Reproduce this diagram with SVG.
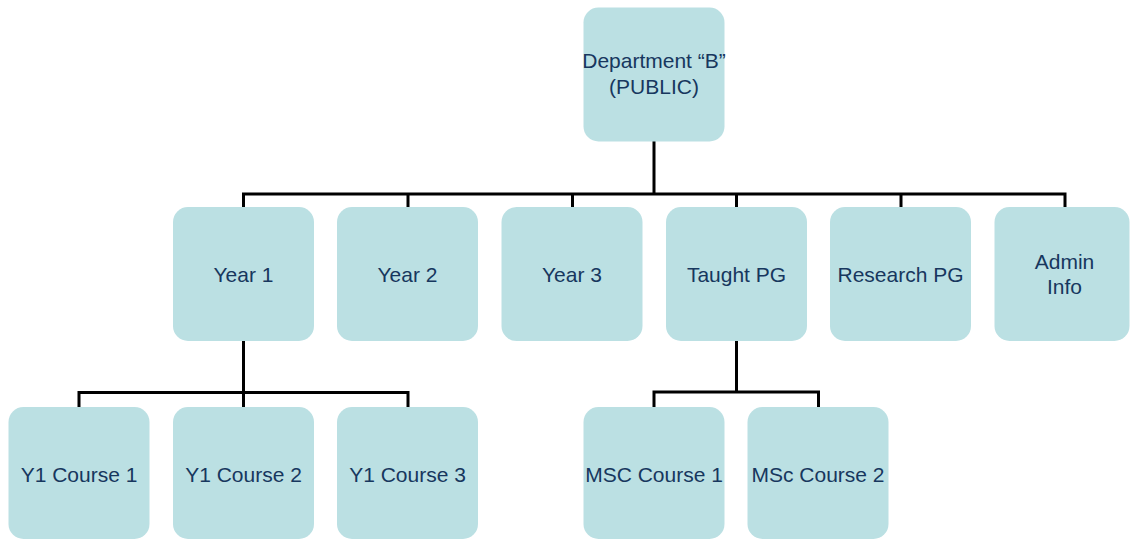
<svg xmlns="http://www.w3.org/2000/svg" width="1130" height="539" viewBox="0 0 1130 539">
<style>
.n{fill:#BBE0E3;}
.t{font-family:"Liberation Sans",Arial,sans-serif;font-size:21px;fill:#17375E;text-anchor:middle;}
.c{fill:none;stroke:#000;stroke-width:3;stroke-linejoin:miter;stroke-linecap:square;}
</style>
<rect width="1130" height="539" fill="#fff"/>
<g id="connectors">
<path class="c" d="M654 142V194M243.5 194H1065M243.5 194V207M408 194V207M572.5 194V207M736.5 194V207M901 194V207M1065 194V207"/>
<path class="c" d="M243.5 341V392.5M79 392.5H408M79 392.5V407M243.5 392.5V407M408 392.5V407"/>
<path class="c" d="M736.5 341V392M654 392H818.5M654 392V407M818.5 392V407"/>
</g>
<g id="dept"><rect class="n" x="583.5" y="7.5" width="141" height="134" rx="15"/><text class="t" x="654" y="68">Department “B”</text><text class="t" x="654" y="94">(PUBLIC)</text></g>
<g id="year1"><rect class="n" x="173" y="207" width="141" height="134" rx="15"/><text class="t" x="243.5" y="281.5">Year 1</text></g>
<g id="year2"><rect class="n" x="337" y="207" width="141" height="134" rx="15"/><text class="t" x="407.5" y="281.5">Year 2</text></g>
<g id="year3"><rect class="n" x="501.5" y="207" width="141" height="134" rx="15"/><text class="t" x="572" y="281.5">Year 3</text></g>
<g id="taughtpg"><rect class="n" x="666" y="207" width="141" height="134" rx="15"/><text class="t" x="736.5" y="281.5">Taught PG</text></g>
<g id="researchpg"><rect class="n" x="830" y="207" width="141" height="134" rx="15"/><text class="t" x="900.5" y="281.5">Research PG</text></g>
<g id="admin"><rect class="n" x="994.5" y="207" width="135" height="134" rx="15"/><text class="t" x="1064.5" y="268.5">Admin</text><text class="t" x="1064.5" y="294">Info</text></g>
<g id="y1c1"><rect class="n" x="8.5" y="407" width="141" height="132" rx="15"/><text class="t" x="79" y="481.5">Y1 Course 1</text></g>
<g id="y1c2"><rect class="n" x="173" y="407" width="141" height="132" rx="15"/><text class="t" x="243.5" y="481.5">Y1 Course 2</text></g>
<g id="y1c3"><rect class="n" x="337" y="407" width="141" height="132" rx="15"/><text class="t" x="407.5" y="481.5">Y1 Course 3</text></g>
<g id="msc1"><rect class="n" x="583.5" y="407" width="141" height="132" rx="15"/><text class="t" x="654" y="481.5">MSC Course 1</text></g>
<g id="msc2"><rect class="n" x="747.5" y="407" width="141" height="132" rx="15"/><text class="t" x="818" y="481.5">MSc Course 2</text></g>
</svg>
